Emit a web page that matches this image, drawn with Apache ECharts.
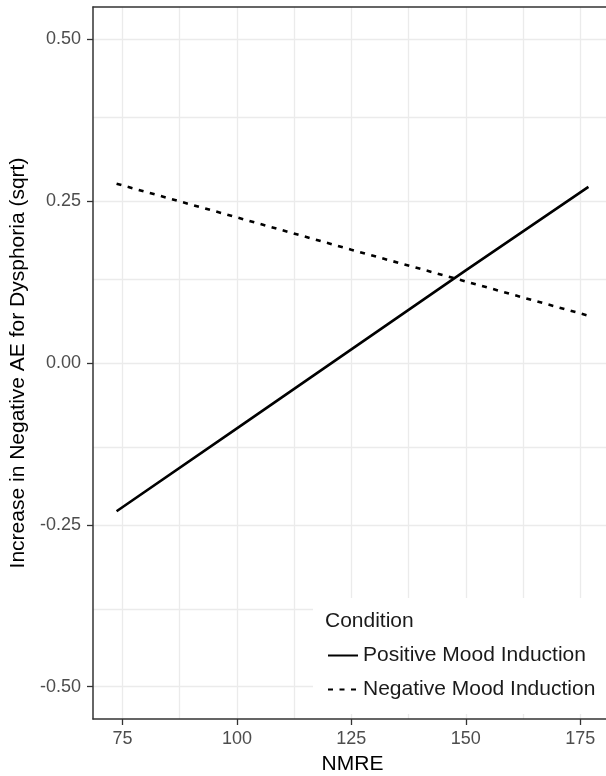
<!DOCTYPE html>
<html>
<head>
    <meta charset="utf-8">
    <title>NMRE vs Dysphoria</title>
    <script src="https://cdn.jsdelivr.net/npm/echarts@6/dist/echarts.min.js"></script>
    <style>
        html, body { margin: 0; padding: 0; background: #fff; }
        #chart { width: 606px; height: 776px; }
    </style>
</head>
<body>
<div id="chart"></div>
<script>
    // values
    var nmre = [73.7, 100, 125, 150, 176.8];
    var positiveMood = [-0.229, -0.101, 0.021, 0.143, 0.272];
    var negativeMood = [0.277, 0.225, 0.175, 0.126, 0.073];

    var xTicks = [75, 100, 125, 150, 175];
    var xMinor = [87.5, 112.5, 137.5, 162.5];
    var yTicks = [-0.5, -0.25, 0, 0.25, 0.5];
    var yMinor = [-0.375, -0.125, 0.125, 0.375];

    var font = 'Liberation Sans, Arial, sans-serif';

    function pairs(xs, ys) {
        var out = [];
        for (var i = 0; i < xs.length; i++) out.push([xs[i], ys[i]]);
        return out;
    }

    // grid lines drawn as mark lines so the odd axis range keeps ggplot's breaks
    var gridLines = [];
    xTicks.concat(xMinor).forEach(function (v) { gridLines.push({xAxis: v}); });
    yTicks.concat(yMinor).forEach(function (v) { gridLines.push({yAxis: v}); });

    var chart = echarts.init(document.getElementById('chart'));
    var option = {
        animation: false,
        backgroundColor: '#fff',
        textStyle: { fontFamily: font },
        grid: { left: 93, right: -6, top: 7, bottom: 57, outerBoundsMode: 'none', containLabel: false },
        xAxis: [{
            type: 'value',
            z: 30,
            min: 68.55,
            max: 181.95,
            name: 'NMRE',
            nameLocation: 'middle',
            nameGap: 35,
            nameTextStyle: { fontSize: 21, color: '#000', fontFamily: font },
            axisLine: { show: true, onZero: false, lineStyle: { color: '#333', width: 1.5 } },
            axisTick: { show: true, length: 6, customValues: xTicks, lineStyle: { color: '#333', width: 1.3 } },
            axisLabel: { customValues: xTicks, fontSize: 18, color: '#4d4d4d', margin: 11, fontFamily: font },
            splitLine: { show: false }
        }, {
            type: 'value',
            z: 30,
            position: 'top',
            min: 68.55,
            max: 181.95,
            axisLine: { show: true, onZero: false, lineStyle: { color: '#333', width: 1.5 } },
            axisTick: { show: false },
            axisLabel: { show: false },
            splitLine: { show: false }
        }],
        yAxis: {
            type: 'value',
            z: 30,
            min: -0.55,
            max: 0.55,
            name: 'Increase in Negative AE for Dysphoria (sqrt)',
            nameLocation: 'middle',
            nameGap: 64,
            nameTextStyle: { fontSize: 21, color: '#000', fontFamily: font },
            axisLine: { show: true, onZero: false, lineStyle: { color: '#333', width: 1.5 } },
            axisTick: { show: true, length: 6, customValues: yTicks, lineStyle: { color: '#333', width: 1.3 } },
            axisLabel: {
                customValues: yTicks,
                fontSize: 18,
                color: '#4d4d4d',
                margin: 12,
                fontFamily: font,
                formatter: function (v) { return v.toFixed(2); }
            },
            splitLine: { show: false }
        },
        legend: {
            orient: 'vertical',
            left: 313,
            top: 598,
            z: 20,
            data: ['Positive Mood Induction', 'Negative Mood Induction'],
            backgroundColor: '#fff',
            padding: [47, 12, 14, 14],
            itemWidth: 30,
            itemHeight: 14,
            itemGap: 13,
            itemStyle: { opacity: 0 },
            textStyle: { fontSize: 21, color: '#1a1a1a', fontFamily: font }
        },
        graphic: [{
            type: 'text',
            left: 325,
            top: 611,
            z: 100,
            style: { text: 'Condition', fontSize: 21, fill: '#1a1a1a', fontFamily: font }
        }],
        series: [{
            name: 'grid',
            type: 'line',
            data: [],
            z: 1,
            silent: true,
            markLine: {
                z: 1,
                silent: true,
                symbol: ['none', 'none'],
                label: { show: false },
                lineStyle: { type: 'solid', color: '#ebebeb', width: 1.3 },
                data: gridLines
            }
        }, {
            name: 'Positive Mood Induction',
            type: 'line',
            z: 3,
            symbol: 'none',
            data: pairs(nmre, positiveMood),
            lineStyle: { color: '#000', width: 2.6, type: 'solid' },
            itemStyle: { color: '#000' }
        }, {
            name: 'Negative Mood Induction',
            type: 'line',
            z: 3,
            symbol: 'none',
            data: pairs(nmre, negativeMood),
            lineStyle: { color: '#000', width: 2.6, type: [5, 6.5] },
            itemStyle: { color: '#000' }
        }]
    };
    chart.setOption(option);
</script>
</body>
</html>
